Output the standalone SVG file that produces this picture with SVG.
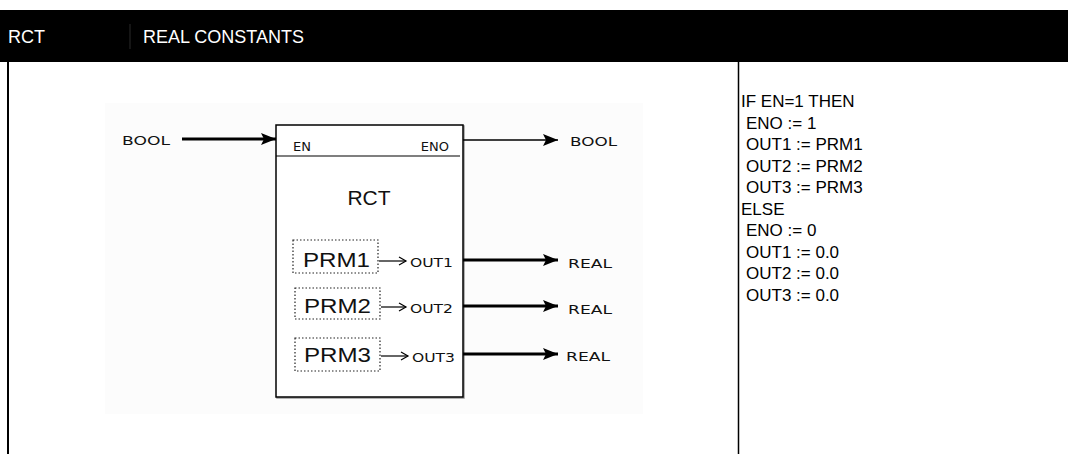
<svg xmlns="http://www.w3.org/2000/svg" width="1068" height="454" viewBox="0 0 1068 454">
<defs>
<style>
.hdr{font-family:"Liberation Sans",Arial,sans-serif;font-size:18px;fill:#fff}
.code{font-family:"Liberation Sans",Arial,sans-serif;font-size:17px;fill:#000}
.pix{font-family:"DejaVu Sans","Liberation Sans",sans-serif;font-size:13px;fill:#111}
.big{font-family:"Liberation Sans",Arial,sans-serif;font-size:21px;fill:#111}
.wire{stroke:#000;fill:none}
.prm{fill:none;stroke:#222;stroke-width:1.2;stroke-dasharray:1.5 2}
</style>
<marker id="ah" markerUnits="userSpaceOnUse" markerWidth="16" markerHeight="14" refX="15" refY="7" orient="auto">
<path d="M0,1 L15,7 L0,13 L3,7 Z" fill="#000"/>
</marker>
<marker id="sm" markerUnits="userSpaceOnUse" markerWidth="10" markerHeight="10" refX="8" refY="5" orient="auto">
<path d="M1,1 L8,5 L1,9" fill="none" stroke="#000" stroke-width="1.2"/>
</marker>
</defs>
<rect width="1068" height="454" fill="#fff"/>
<g id="header">
<rect x="0" y="10" width="1068" height="52" fill="#000"/>
<line x1="130" y1="24" x2="130" y2="49" stroke="#2a2a2a" stroke-width="1"/>
<text class="hdr" x="8" y="43">RCT</text>
<text class="hdr" x="143" y="43">REAL CONSTANTS</text>
</g>
<g id="frame">
<line x1="8" y1="62" x2="8" y2="454" stroke="#000" stroke-width="2"/>
<line x1="738.5" y1="62" x2="738.5" y2="454" stroke="#000" stroke-width="1.5"/>
<rect x="105" y="103" width="538" height="311" fill="#fcfcfc"/>
</g>
<g id="block-rct">
<rect x="277" y="126" width="187" height="272" fill="none" stroke="#999" stroke-width="1.5"/>
<rect x="276" y="125" width="187" height="272" fill="#fff" stroke="#000" stroke-width="1.5"/>
<line x1="276" y1="156" x2="460" y2="156" stroke="#000" stroke-width="1.2"/>
<text class="pix" x="293" y="151">EN</text>
<text class="pix" x="449" y="151" text-anchor="end">ENO</text>
<text class="big" x="369" y="205" text-anchor="middle">RCT</text>
</g>
<g id="prm1">
<rect class="prm" x="293" y="240" width="85" height="33"/>
<text class="big" x="303" y="267" font-size="23" textLength="67" lengthAdjust="spacingAndGlyphs">PRM1</text>
<text class="pix" x="410" y="267" textLength="43" lengthAdjust="spacingAndGlyphs">OUT1</text>
</g>
<g id="prm2">
<rect class="prm" x="295" y="288" width="85" height="31"/>
<text class="big" x="304" y="313" font-size="23" textLength="67" lengthAdjust="spacingAndGlyphs">PRM2</text>
<text class="pix" x="410" y="313" textLength="43" lengthAdjust="spacingAndGlyphs">OUT2</text>
</g>
<g id="prm3">
<rect class="prm" x="295" y="338" width="85" height="33"/>
<text class="big" x="304" y="362" font-size="23" textLength="67" lengthAdjust="spacingAndGlyphs">PRM3</text>
<text class="pix" x="412" y="362" textLength="43" lengthAdjust="spacingAndGlyphs">OUT3</text>
</g>
<g id="labels">
<text class="pix" x="122" y="145" textLength="48" lengthAdjust="spacingAndGlyphs">BOOL</text>
<text class="pix" x="570" y="146" textLength="47" lengthAdjust="spacingAndGlyphs">BOOL</text>
<text class="pix" x="568" y="268" textLength="44" lengthAdjust="spacingAndGlyphs">REAL</text>
<text class="pix" x="568" y="314" textLength="44" lengthAdjust="spacingAndGlyphs">REAL</text>
<text class="pix" x="566" y="361" textLength="44" lengthAdjust="spacingAndGlyphs">REAL</text>
</g>
<g id="connectors">
<line class="wire" x1="182" y1="139" x2="276" y2="139" stroke-width="3" marker-end="url(#ah)"/>
<line class="wire" x1="463" y1="140" x2="558" y2="140" stroke-width="1.5" marker-end="url(#ah)"/>
<line class="wire" x1="463" y1="260" x2="558" y2="260" stroke-width="3" marker-end="url(#ah)"/>
<line class="wire" x1="463" y1="306" x2="558" y2="306" stroke-width="3" marker-end="url(#ah)"/>
<line class="wire" x1="463" y1="354" x2="558" y2="354" stroke-width="3" marker-end="url(#ah)"/>
<line class="wire" x1="379" y1="261" x2="406" y2="261" stroke-width="1.2" marker-end="url(#sm)"/>
<line class="wire" x1="381" y1="307" x2="406" y2="307" stroke-width="1.2" marker-end="url(#sm)"/>
<line class="wire" x1="381" y1="356" x2="408" y2="356" stroke-width="1.2" marker-end="url(#sm)"/>
</g>
<g id="code">
<text class="code" x="741" y="107">IF EN=1 THEN</text>
<text class="code" x="746" y="128.5">ENO := 1</text>
<text class="code" x="746" y="150">OUT1 := PRM1</text>
<text class="code" x="746" y="171.5">OUT2 := PRM2</text>
<text class="code" x="746" y="193">OUT3 := PRM3</text>
<text class="code" x="741" y="214.5">ELSE</text>
<text class="code" x="746" y="236">ENO := 0</text>
<text class="code" x="746" y="257.5">OUT1 := 0.0</text>
<text class="code" x="746" y="279">OUT2 := 0.0</text>
<text class="code" x="746" y="300.5">OUT3 := 0.0</text>
</g>
</svg>
